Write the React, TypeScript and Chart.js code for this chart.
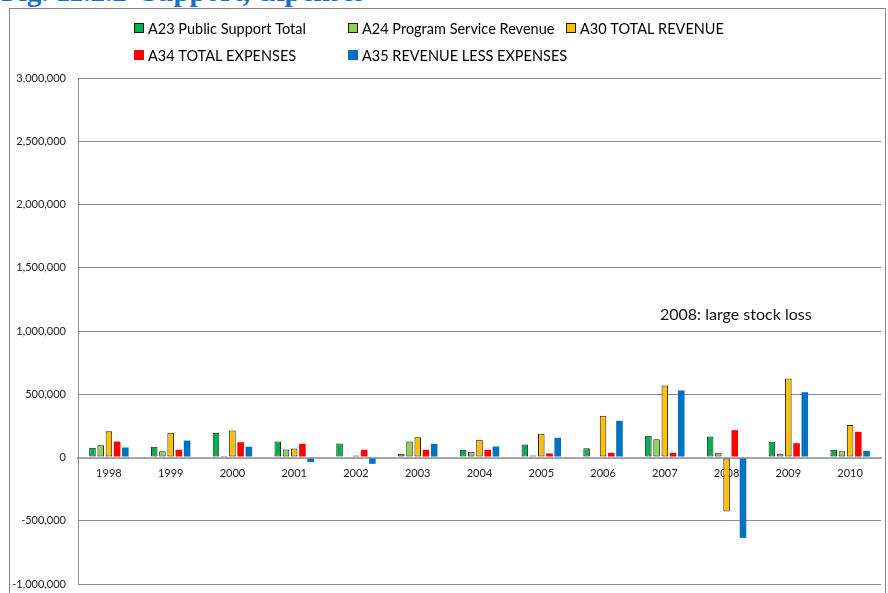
import React, { useEffect, useRef } from "react";
import { Chart, registerables } from "chart.js";

Chart.register(...registerables);

const categories = ["1998", "1999", "2000", "2001", "2002", "2003", "2004", "2005", "2006", "2007", "2008", "2009", "2010"];
const publicSupport = [78000, 85000, 195000, 126000, 111000, 29000, 61000, 103000, 74000, 172000, 166000, 124000, 61000];
const programService = [97000, 50000, 3000, 63000, 0, 126000, 45000, 16000, 0, 145000, 37000, 29000, 50000];
const totalRevenue = [208000, 195000, 213000, 71000, 16000, 160000, 140000, 187000, 330000, 569000, -427000, 625000, 256000];
const totalExpenses = [126000, 61000, 121000, 108000, 61000, 61000, 61000, 32000, 37000, 37000, 216000, 113000, 203000];
const revenueLessExpenses = [79000, 134000, 85000, -37000, -50000, 108000, 87000, 156000, 290000, 530000, -635000, 516000, 53000];

const seriesLabels = [
  "A23 Public Support Total",
  "A24 Program Service Revenue",
  "A30 TOTAL REVENUE",
  "A34 TOTAL EXPENSES",
  "A35 REVENUE LESS EXPENSES",
];
const seriesColors = ["#00B050", "#92D050", "#FFC000", "#FF0000", "#0070C0"];
const annotationText = "2008: large stock loss";
const titleText = "Fig. 11.2.2  Support, expenses";

const FONT = "Lato, 'Open Sans', sans-serif";

const legendPlugin = {
  id: "customLegend",
  afterDraw(chart: any) {
    const ctx = chart.ctx;
    const cols = [134, 348, 566];
    const rows = [28, 55];
    const slots = [
      [0, 0],
      [1, 0],
      [2, 0],
      [0, 1],
      [1, 1],
    ];
    ctx.save();
    ctx.font = `14.5px ${FONT}`;
    ctx.textBaseline = "middle";
    ctx.textAlign = "left";
    chart.data.datasets.forEach((ds: any, i: number) => {
      const [c, r] = slots[i];
      const x = cols[c];
      const y = rows[r];
      ctx.fillStyle = ds.backgroundColor;
      ctx.fillRect(x, y - 5, 10, 10);
      if (ds.borderWidth > 0) {
        ctx.strokeStyle = ds.borderColor;
        ctx.lineWidth = 1;
        ctx.strokeRect(x + 0.5, y - 4.5, 9, 9);
      }
      ctx.fillStyle = "#000";
      ctx.fillText(ds.label, x + 14, y + 1);
    });
    ctx.font = `16px ${FONT}`;
    ctx.fillStyle = "#111";
    ctx.fillText(annotationText, 660, 315);
    ctx.restore();
  },
};

export default function App() {
  const ref = useRef<HTMLCanvasElement>(null);
  useEffect(() => {
    if (!ref.current) return;
    const values = [publicSupport, programService, totalRevenue, totalExpenses, revenueLessExpenses];
    const chart = new Chart(ref.current, {
      type: "bar",
      data: {
        labels: categories,
        datasets: values.map((v, i) => ({
          label: seriesLabels[i],
          data: v,
          backgroundColor: seriesColors[i],
          borderColor: i < 3 ? "#1e1e1e" : seriesColors[i],
          borderWidth: i < 3 ? 1 : 0,
          borderSkipped: false,
          categoryPercentage: 0.665,
          barPercentage: 0.8,
        })),
      },
      options: {
        responsive: false,
        animation: false,
        layout: { padding: { top: 78, bottom: 9, left: 0, right: 7 } },
        plugins: {
          legend: { display: false },
          tooltip: { enabled: false },
        },
        scales: {
          x: {
            position: { y: 0 } as any,
            grid: { display: false, drawTicks: false },
            border: { display: true, color: "#a6a6a6", width: 2 },
            ticks: { padding: 9, font: { size: 11, family: FONT }, color: "#222" },
          },
          y: {
            min: -1000000,
            max: 3000000,
            afterFit: (s: any) => {
              s.width = 78;
              s.paddingBottom = 0;
              s.paddingTop = 0;
            },
            ticks: {
              stepSize: 500000,
              padding: 12,
              font: { size: 11, family: FONT },
              color: "#222",
              callback: (v: any) => Number(v).toLocaleString("en-US"),
            },
            grid: {
              drawTicks: false,
              color: (c: any) => (c.tick && c.tick.value === 0 ? "#a6a6a6" : "#8c8c8c"),
              lineWidth: (c: any) => (c.tick && c.tick.value === 0 ? 2 : 1),
            },
            border: { display: true, color: "#8c8c8c" },
          },
        },
      },
      plugins: [legendPlugin],
    });
    return () => chart.destroy();
  }, []);

  return (
    <div style={{ position: "absolute", left: 0, top: 0, width: 888, height: 593, overflow: "hidden", background: "#fff" }}>
      <div
        style={{
          position: "absolute",
          left: 1,
          top: -23,
          fontFamily: "'Liberation Serif', serif",
          fontWeight: "bold",
          fontSize: 29,
          lineHeight: 1,
          color: "#1C6BC6",
          whiteSpace: "pre",
        }}
      >
        {titleText}
      </div>
      <div
        style={{
          position: "absolute",
          left: 9,
          top: 8,
          width: 877,
          height: 620,
          border: "1px solid #868686",
          boxSizing: "border-box",
        }}
      />
      <canvas ref={ref} width={888} height={593} style={{ position: "absolute", left: 0, top: 0 }} />
    </div>
  );
}
